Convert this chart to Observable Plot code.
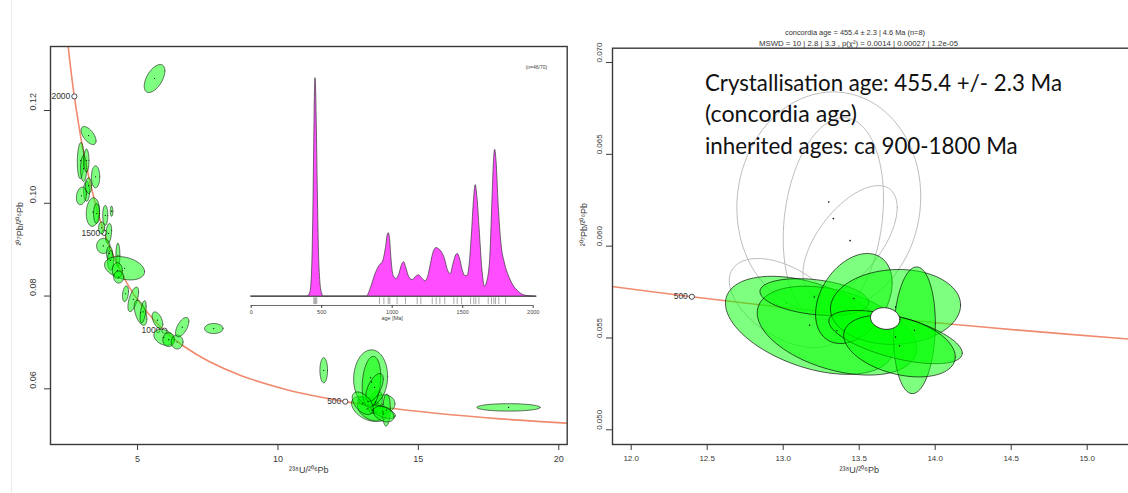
<!DOCTYPE html>
<html><head><meta charset="utf-8">
<script src="https://cdn.jsdelivr.net/npm/d3@7"></script>
<script src="https://cdn.jsdelivr.net/npm/@observablehq/plot@0.6"></script>
<style>
html,body{margin:0;padding:0;background:#fff;}
#wrap{position:relative;width:1128px;height:493px;overflow:hidden;background:#fff;font-family:"Liberation Sans",Arial,sans-serif;}
.pane{position:absolute;}
.pane svg{max-width:none !important;}
#edge{position:absolute;left:11px;top:0;width:1px;height:493px;background:#ececec;}
</style></head>
<body><div id="wrap"><div id="edge"></div></div>
<script>
// ---------------- data ----------------
// concordia (Tera-Wasserburg) reference points: age [Ma], 238U/206Pb, 207Pb/206Pb
const concAge = [300,350,400,450,500,550,600,700,800,900,1000,1200,1400,1500,1600,1800,2000,2100,2200];
const concX   = [20.992,17.923,15.621,13.831,12.399,11.228,10.252,8.718,7.568,6.674,5.959,4.888,4.123,3.817,3.550,3.105,2.749,2.597,2.459];
const concY   = [0.052357,0.053523,0.054725,0.055965,0.057245,0.058566,0.059928,0.062785,0.065829,0.069074,0.072532,0.080158,0.088847,0.093639,0.098760,0.110085,0.123042,0.130208,0.137884];
const leftTickAges  = [2000,1500,1000,500];
const rightTickAges = [500];

// analyses: [238U/206Pb, 207Pb/206Pb, sx, sy, rho]
const detritalEllipses = [
  [5.605,0.1269,0.368,0.00302,0.55],
  [3.256,0.1146,0.267,0.00194,-0.6],
  [2.972,0.1092,0.117,0.0039,0.1],
  [3.079,0.1075,0.107,0.0028,0],
  [3.185,0.1026,0.107,0.00216,0],
  [3.505,0.1057,0.148,0.00237,0],
  [3.00,0.1016,0.178,0.0019,0.2],
  [3.256,0.1038,0.107,0.0017,0],
  [3.18,0.1092,0.09,0.0025,0],
  [3.41,0.0981,0.237,0.00308,0.1],
  [3.54,0.0978,0.107,0.00215,0],
  [3.85,0.0974,0.09,0.00215,0],
  [4.075,0.0983,0.046,0.0011,0],
  [3.72,0.0947,0.107,0.0013,0],
  [3.97,0.0935,0.107,0.00215,0.3],
  [3.78,0.0908,0.238,0.00162,0],
  [4.0,0.0892,0.107,0.0015,0],
  [4.04,0.0877,0.107,0.00215,0],
  [4.3,0.0888,0.071,0.0026,0],
  [4.537,0.0860,0.712,0.00252,-0.3],
  [4.28,0.0855,0.178,0.0017,0],
  [4.33,0.0841,0.178,0.0013,0],
  [4.57,0.0805,0.107,0.0017,0.3],
  [4.847,0.0793,0.19,0.00265,0.6],
  [5.107,0.0764,0.225,0.0027,-0.5],
  [5.2,0.0766,0.107,0.0024,0.5],
  [5.71,0.0748,0.19,0.00179,-0.5],
  [5.936,0.0711,0.356,0.00172,-0.3],
  [6.11,0.0706,0.21,0.0015,0],
  [6.41,0.0701,0.21,0.0015,0],
  [6.59,0.0733,0.237,0.00209,0.6],
  [7.715,0.0730,0.33,0.00108,0],
  [11.63,0.0640,0.136,0.0027,0],
  [18.21,0.0560,1.127,0.0008,0]
];
// youngest population: used in the concordia age (green)
const concordantEllipses = [
  [13.174,0.05569,0.554,0.00267,-0.45],
  [13.353,0.0554,0.524,0.00242,-0.4],
  [13.205,0.05723,0.358,0.00100,-0.3],
  [13.465,0.05715,0.252,0.00245,0.35],
  [13.739,0.05669,0.428,0.00204,0.05],
  [13.864,0.05542,0.137,0.00345,0.1],
  [13.739,0.05505,0.439,0.00145,-0.6],
  [13.765,0.05456,0.367,0.00168,-0.35]
];
// same population, rejected from the concordia age (grey)
const rejectedEllipses = [
  [13.30,0.0624,0.605,0.0060,0.05],
  [13.33,0.0615,0.33,0.0055,0.2],
  [13.44,0.0603,0.31,0.0030,0.6],
  [13.02,0.0569,0.375,0.00243,-0.5]
];
const concordiaAgeEllipse = [[13.671,0.05606,0.0965,0.00059,-0.1]];

// KDE of ages (relative density)
const kdeAge = [0,400,420,432,440,447,452,456,460,465,472,480,490,502,515,820,850,880,910,935,955,968,976,985,995,1010,1030,1050,1070,1085,1100,1120,1145,1170,1190,1210,1235,1255,1275,1295,1315,1335,1355,1375,1395,1415,1435,1455,1465,1480,1500,1520,1535,1550,1565,1580,1592,1605,1620,1640,1658,1675,1695,1710,1722,1730,1740,1755,1775,1800,1830,1860,1900,1950,2025];
const kdeDens = [0,0,0.02,0.12,0.35,0.7,0.93,1.0,0.96,0.8,0.5,0.22,0.07,0.015,0,0,0.04,0.1,0.14,0.16,0.22,0.28,0.29,0.26,0.17,0.095,0.08,0.1,0.145,0.157,0.13,0.09,0.075,0.09,0.097,0.085,0.07,0.09,0.15,0.205,0.222,0.215,0.2,0.17,0.12,0.103,0.15,0.19,0.195,0.175,0.12,0.093,0.095,0.15,0.28,0.44,0.51,0.45,0.31,0.12,0.045,0.07,0.17,0.42,0.62,0.672,0.62,0.42,0.24,0.15,0.09,0.05,0.02,0.003,0];
const rugAges = [444,451,458,465,910,941,972,983,1035,1094,1177,1203,1284,1312,1338,1373,1437,1461,1492,1556,1579,1593,1615,1681,1704,1721,1733,1756,1804];
const kdeTicks = [0,500,1000,1500,2000];

const leftXTicks = [5,10,15,20];
const leftYTicks = [0.06,0.08,0.10,0.12];
const rightXTicks = [12.0,12.5,13.0,13.5,14.0,14.5,15.0];
const rightYTicks = [0.050,0.055,0.060,0.065,0.070];

const xLabel = "²³⁸U/²⁰⁶Pb";
const yLabel = "²⁰⁷Pb/²⁰⁶Pb";
const titleLines = ["concordia age = 455.4 ± 2.3 | 4.6 Ma (n=8)", "MSWD = 10 | 2.8 | 3.3 , p(χ²) = 0.0014 | 0.00027 | 1.2e-05"];
const noteLines = ["Crystallisation age: 455.4 +/- 2.3 Ma", "(concordia age)", "inherited ages: ca 900-1800 Ma"];
const kdeCount = "(n=46/70)";

// ---------------- helpers ----------------
const conc = concAge.map((a,i)=>({age:a, x:concX[i], y:concY[i]}));
function ellipsePts(list, prefix){
  const out=[]; const n=90;
  list.forEach((e,j)=>{
    const [cx,cy,sx,sy,r]=e; const k=Math.sqrt(1-r*r);
    for(let i=0;i<=n;i++){const t=2*Math.PI*i/n;
      out.push({id:prefix+j, x:cx+sx*Math.cos(t), y:cy+sy*(r*Math.cos(t)+k*Math.sin(t))});}
  });
  return out;
}
const centers = list => list.map(e=>({x:e[0], y:e[1]}));
const FONT = "Liberation Sans, Arial, sans-serif";
const GREEN = "#00ff00", CONC = "#f08a6e", AX = "#3a3a3a";
const wrap = document.getElementById("wrap");
function place(node, left, top, w){const d=document.createElement("div");d.className="pane";d.style.left=left+"px";d.style.top=top+"px";d.style.width=w+"px";d.appendChild(node);wrap.appendChild(d);return d;}

// ---------------- left panel ----------------
const allLeft = detritalEllipses.concat(concordantEllipses, rejectedEllipses);
const leftMarks = conc.filter(d=>leftTickAges.includes(d.age));
const left = Plot.plot({
  width:575, height:493, marginLeft:50, marginRight:8.3, marginTop:46, marginBottom:49,
  x:{domain:[1.9,20.3]}, y:{domain:[0.048,0.1338]},
  style:{fontFamily:FONT, fontSize:"9px", color:AX, background:"transparent"},
  marks:[
    Plot.line(conc,{x:"x",y:"y",curve:"catmull-rom",stroke:CONC,strokeWidth:1.6,clip:true}),
    Plot.dot(leftMarks,{x:"x",y:"y",r:2.6,stroke:"#333",fill:"white",strokeWidth:0.9}),
    Plot.text(leftMarks,{x:"x",y:"y",text:d=>String(d.age),textAnchor:"end",dx:-4,fontSize:8.5,fill:"#333"}),
    Plot.line(ellipsePts(allLeft,"L"),{x:"x",y:"y",z:"id",fill:GREEN,fillOpacity:0.5,stroke:"#000",strokeOpacity:0.7,strokeWidth:0.8,clip:true}),
    Plot.dot(centers(allLeft),{x:"x",y:"y",r:0.6,fill:"#000"}),
    Plot.frame({stroke:AX,strokeWidth:1.4}),
    Plot.axisX({ticks:leftXTicks,tickSize:6,tickPadding:5,label:null,stroke:AX}),
    Plot.axisY({ticks:leftYTicks,tickSize:6,tickFormat:()=>"",label:null,stroke:AX}),
    Plot.text(leftYTicks,{y:d=>d,frameAnchor:"left",dx:-17,rotate:-90,text:d=>d3.format(".2f")(d)}),
    Plot.text([xLabel],{frameAnchor:"bottom",dy:28,text:d=>d}),
    Plot.text([yLabel],{frameAnchor:"left",dx:-30,rotate:-90,text:d=>d})
  ]
});
place(left,0,0,575);

// ---------------- KDE inset ----------------
const kde = kdeAge.map((a,i)=>({age:a, d:kdeDens[i]}));
const inset = Plot.plot({
  width:330, height:280, marginLeft:20.7, marginRight:27.3, marginTop:27.7, marginBottom:34,
  x:{domain:[0,2000]}, y:{domain:[0,1], axis:null},
  style:{fontFamily:FONT, fontSize:"5.5px", color:"#444", background:"transparent"},
  marks:[
    Plot.areaY(kde,{x:"age",y:"d",fill:"#ff4dff",stroke:"#333",strokeWidth:0.7,curve:"monotone-x"}),
    Plot.ruleY([0],{x1:0,x2:2025,stroke:"#444",strokeWidth:0.8}),
    Plot.ruleX(rugAges,{x:d=>d,y1:-0.006,y2:-0.037,stroke:"#555",strokeWidth:0.5}),
    Plot.ruleY([-0.0412],{x1:0,x2:2000,stroke:"#444",strokeWidth:0.8}),
    Plot.axisX({ticks:kdeTicks,tickSize:3,tickPadding:2,dy:9,tickFormat:d=>String(d),label:null,stroke:"#444"}),
    Plot.text(["age [Ma]"],{x:1000,frameAnchor:"bottom",dy:23,text:d=>d}),
    Plot.text([kdeCount],{frameAnchor:"top-right",textAnchor:"end",dx:14,dy:-12.7,text:d=>d,fontSize:5})
  ]
});
place(inset,230,50,330);

// ---------------- right panel ----------------
const rightMarks = conc.filter(d=>rightTickAges.includes(d.age));
const right = Plot.plot({
  width:598, height:493, marginLeft:37, marginRight:10.3, marginTop:47.7, marginBottom:49,
  x:{domain:[11.877,15.5]}, y:{domain:[0.0492,0.07078]},
  style:{fontFamily:FONT, fontSize:"8px", color:AX, background:"transparent"},
  marks:[
    Plot.line(conc,{x:"x",y:"y",curve:"catmull-rom",stroke:CONC,strokeWidth:1.6,clip:true}),
    Plot.dot(rightMarks,{x:"x",y:"y",r:2.6,stroke:"#333",fill:"white",strokeWidth:0.9}),
    Plot.text(rightMarks,{x:"x",y:"y",text:d=>String(d.age),textAnchor:"end",dx:-4,fontSize:8.5,fill:"#333"}),
    Plot.line(ellipsePts(rejectedEllipses,"G"),{x:"x",y:"y",z:"id",fill:"none",stroke:"#bdbdbd",strokeWidth:1,clip:true}),
    Plot.dot(centers(rejectedEllipses),{x:"x",y:"y",r:0.8,fill:"#000"}),
    Plot.line(ellipsePts(concordantEllipses,"E"),{x:"x",y:"y",z:"id",fill:GREEN,fillOpacity:0.5,stroke:"#000",strokeOpacity:0.65,strokeWidth:1,clip:true}),
    Plot.dot(centers(concordantEllipses),{x:"x",y:"y",r:0.7,fill:"#000"}),
    Plot.line(ellipsePts(concordiaAgeEllipse,"W"),{x:"x",y:"y",z:"id",fill:"white",stroke:"#222",strokeWidth:1}),
    Plot.frame({stroke:AX,strokeWidth:1.4}),
    Plot.axisX({ticks:rightXTicks,tickSize:6,tickPadding:5,tickFormat:d3.format(".1f"),label:null,stroke:AX}),
    Plot.axisY({ticks:rightYTicks,tickSize:6,tickFormat:()=>"",label:null,stroke:AX}),
    Plot.text(rightYTicks,{y:d=>d,frameAnchor:"left",dx:-13,rotate:-90,text:d=>d3.format(".3f")(d)}),
    Plot.text([xLabel],{x:13.5,frameAnchor:"bottom",dy:28,text:d=>d,fontSize:9}),
    Plot.text([yLabel],{frameAnchor:"left",dx:-28,rotate:-90,text:d=>d,fontSize:9})
  ]
});
place(right,575,0,598);

// ---------------- titles & annotation overlay ----------------
const ov = d3.select(wrap).append("svg").attr("width",1128).attr("height",493)
  .style("position","absolute").style("left","0px").style("top","0px").style("pointer-events","none");
const tl = [{t:titleLines[0],x:855,y:34.5,w:140},{t:titleLines[1],x:858.5,y:45.5,w:199}];
tl.forEach(d=>ov.append("text").attr("x",d.x).attr("y",d.y).attr("text-anchor","middle")
  .attr("font-family",FONT).attr("font-size",8).attr("fill","#333")
  .attr("textLength",d.w).attr("lengthAdjust","spacingAndGlyphs").text(d.t));
const nl = [{y:90.5,w:357},{y:122,w:152},{y:153.5,w:312.7}];
noteLines.forEach((t,i)=>ov.append("text").attr("x",705).attr("y",nl[i].y)
  .attr("font-family","Lato, 'Open Sans', sans-serif").attr("font-size",23).attr("fill","#111")
  .attr("textLength",nl[i].w).attr("lengthAdjust","spacingAndGlyphs").text(t));
</script>
</body></html>
